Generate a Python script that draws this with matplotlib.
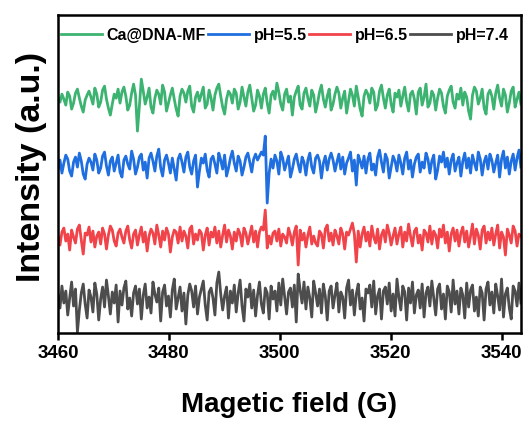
import numpy as np
import matplotlib.pyplot as plt

plt.rcParams['font.family'] = ['Liberation Sans', 'DejaVu Sans']
plt.rcParams['font.weight'] = 'bold'

# field range of the scans (G)
b_start, b_end = 3460.0, 3543.5

# EPR traces, relative intensity (a.u.)
ca_dna_mf = [3, -2, 6, 1, -5, 8, 4, -9, -3, 7, 11, 2, -6, -12, 0, 5,
             9, 3, -4, 12, 6, -7, -2, 10, 14, 1, -8, -15, -4, 6, 2, 11,
             -3, 8, 13, 4, -10, -5, 7, 16, 5, -31, -6, 21, 9, -4, 3, 12,
             -7, -13, 2, 10, 6, -4, 15, 8, -11, -3, 5, 12, 1, -9, -16, 4,
             11, 7, -2, 9, 14, -6, -12, 3, 8, -1, 6, 13, -8, -4, 10, 2,
             -10, 5, 12, 16, 4, -7, -14, 1, 9, 6, -3, 11, 7, -9, -2, 13,
             3, -6, 8, 15, 2, -11, -5, 10, 4, -8, 6, 12, -3, -13, 5, 9,
             1, 17, 8, -4, -10, 6, 11, -2, 4, -15, 3, 9, 14, -5, -9, 7,
             12, 2, -6, 10, 5, -12, -3, 8, 15, 1, -7, 4, 11, -10, -4, 6,
             13, 7, -8, 2, 9, -13, -1, 11, 5, -6, 14, 3, -9, -16, 4, 10,
             6, -3, 12, 8, -10, -5, 9, 15, 2, -8, 5, 11, -4, -12, 7, 3,
             10, -6, 4, 13, -2, -11, 6, 9, 1, -14, 8, 12, -5, 3, 16, -7,
             -3, 9, 5, -10, 2, 11, 7, -6, -13, 4, 10, 14, -2, -8, 6, 1,
             12, -5, 8, 3, -11, -19, 5, 13, 9, -4, 2, 11, -8, -14, 6, 10,
             4, -9, 7, 15, 2, -6, 11, 5, -12, -3, 9, 13, -7, 1, 8, -4]

ph55 = [-4, 5, -8, 2, 10, 6, -6, -11, 3, 8, -2, 12, 4, -9, -14, 1,
        7, 3, -5, 11, 5, -8, -3, 9, 13, -1, -10, 4, 8, -6, 2, 10,
        -7, -12, 5, 9, 1, -4, 14, 6, -9, -2, 8, 11, -5, 3, -13, 7,
        12, 4, -6, 9, 16, -3, -11, 5, 10, 2, -8, 7, -4, -15, 6, 11,
        3, -7, 8, 13, -2, -9, 4, 10, -22, -6, 7, 2, 11, -5, -12, 6,
        9, 1, -8, 12, 5, -4, 10, -11, -3, 7, 14, 2, -6, 9, 4, -10,
        -2, 8, 12, 3, -7, 6, 11, 5, 9, 13, 10, 29, -38, -8, 6, -3,
        10, 4, -9, 13, 7, -5, 2, 9, -12, -4, 6, 11, 1, -7, 8, 3,
        -10, 5, 12, -2, -8, 7, 10, 4, -13, 2, 9, -5, 6, 12, 5, -6,
        3, 11, -4, 8, -9, 2, 7, 13, -6, 5, -20, 10, 4, -3, 9, -8,
        6, 12, -5, 1, -10, 8, 15, 3, -7, 11, 6, -13, -2, 9, 4, -6,
        10, 2, -9, 7, 13, -4, 5, -12, 1, 8, 11, -7, 3, -3, 12, 6,
        -8, 4, 10, -14, -5, 9, 3, 13, -2, 7, -9, 5, 11, -6, 2, 8,
        -11, 4, 12, -3, 7, -8, 10, 2, -5, 13, 6, -10, 3, 9, -4, 11,
        5, -7, 2, 10, -12, 6, 14, -3, 8, -9, 4, 11, -5, 7, 15, -2]

ph65 = [2, -7, 6, 10, -3, 4, -12, 8, 1, -5, 9, 13, -2, -16, 5, 3,
        11, -4, 7, -9, 2, 6, -6, 10, 4, -11, 3, 12, 8, -3, -8, 5,
        9, 1, -5, 7, 12, -2, -10, 4, 8, -7, 3, 11, -4, 6, -13, 2,
        9, 5, -6, 13, 3, -9, 7, -2, 10, 4, -14, 1, 8, 6, -5, 11,
        -3, 7, 2, -10, 9, 12, -6, 4, -2, 8, 5, -12, 3, 10, -7, 6,
        1, 11, -5, 7, -9, 3, 13, -4, 8, 2, -11, 6, -3, 9, 4, -8,
        10, 5, -6, 3, 12, -4, 7, -9, 6, 11, 8, 28, -10, 2, -6, 5,
        7, -3, 9, -8, 4, 1, -5, 10, 3, -7, 6, 12, -27, 8, -2, 5,
        -9, 3, 11, -6, 2, -5, -8, 7, 4, -10, 9, 13, -3, 5, -7, 8,
        2, -6, 10, 4, -11, 6, 3, 9, 15, 4, -24, 7, -9, 4, 11, -3,
        6, -8, 12, 1, -5, 9, -11, 3, 8, -4, 13, 5, -7, 2, 10, -6,
        4, 11, -9, 6, -3, 14, 2, -8, 7, 10, -5, 3, -12, 8, 5, -4,
        12, -6, 7, 3, -10, 9, 1, 13, -5, 6, -13, 4, 10, -3, 8, -8,
        5, 11, -4, 7, -9, 2, 14, -6, 9, 3, -11, 8, 12, -5, 6, -2,
        10, -7, 4, 13, -10, 6, 1, -17, 9, 3, -5, 12, 7, -8, 4, 2]

ph74 = [5, -8, 14, -3, 9, -15, 2, 18, -6, 11, -32, -10, 7, 16, -4, -18,
        10, 3, -12, 17, 6, -20, 1, 13, -7, 20, 4, -14, 8, -3, 15, -22,
        9, -5, 12, 19, -9, 2, -16, 7, 14, -4, 11, -19, 5, 16, -8, 3,
        -13, 18, 6, -2, 12, -21, 8, 15, -6, 4, -17, 10, 21, -9, 2, 13,
        -11, 7, -24, 5, 16, 9, -7, 14, -14, 3, 11, 19, -5, -20, 8, 12,
        2, -15, 17, 28, 6, -10, 4, 13, -18, 9, -3, 15, -12, 7, 20, -6,
        -21, 11, 3, 16, -8, 10, -16, 5, 18, -4, -13, 12, 7, -19, 14, 1,
        9, -11, 17, -5, 21, 3, -14, 8, 12, -7, 15, -22, 26, 10, -3, 18,
        -9, 13, 2, -17, 19, 7, -6, 11, -13, 16, 4, -20, 9, 14, -8, 5,
        17, -12, 8, 3, -18, 12, 20, -5, 10, -15, 6, 16, -9, 2, -21, 11,
        7, 15, -7, 19, -14, 4, 11, -19, 9, 13, -4, 17, -11, 6, -16, 21,
        3, -10, 14, 8, -20, 12, -3, 18, -13, 5, 10, -8, 16, -17, 7, 13,
        -6, 19, 2, -15, 11, 16, -9, 6, -19, 14, 8, -12, 20, -4, 9, -14,
        12, 5, -18, 17, -7, 10, 15, -11, 3, -16, 13, 7, -20, 11, 18, -5,
        8, -13, 16, 4, -10, 21, -17, 6, 12, -8, -19, 14, 9, -6, 17, -3]

labels = ['Ca@DNA-MF', 'pH=5.5', 'pH=6.5', 'pH=7.4']
colors = ['#3cb371', '#1f6fe0', '#f0434a', '#4d4d4d']
offsets = [233, 168, 95, 33]   # vertical stacking of the traces

fig = plt.figure(figsize=(5.23, 4.21), dpi=100)
ax = fig.add_axes([0.111, 0.209, 0.885, 0.755])

for y, lab, c, off in zip([ca_dna_mf, ph55, ph65, ph74], labels, colors, offsets):
    y = np.asarray(y, dtype=float)
    b = np.linspace(b_start, b_end, len(y))
    ax.plot(b, y + off, color=c, lw=2.0, label=lab)

ax.set_xlim(b_start, b_end)
ax.set_ylim(0, 318)
ax.set_xticks([3460, 3480, 3500, 3520, 3540])
ax.set_yticks([])
ax.tick_params(axis='x', labelsize=13.5, width=1.8, length=5, direction='out')
for s in ax.spines.values():
    s.set_linewidth(1.8)

ax.set_xlabel('Magetic field (G)', fontsize=20, fontweight='bold', labelpad=22)
ax.set_ylabel('Intensity (a.u.)', fontsize=24.5, fontweight='bold')
ax.yaxis.set_label_coords(-0.024, 0.522)

leg = ax.legend(loc='upper center', bbox_to_anchor=(0.49, 0.995), ncol=4, frameon=False,
                fontsize=11.5, handlelength=2.6, handletextpad=0.3, columnspacing=0.1,
                borderaxespad=0.3)
for h in leg.legend_handles:
    h.set_linewidth(2.0)

fig.savefig('out.png', dpi=100)
